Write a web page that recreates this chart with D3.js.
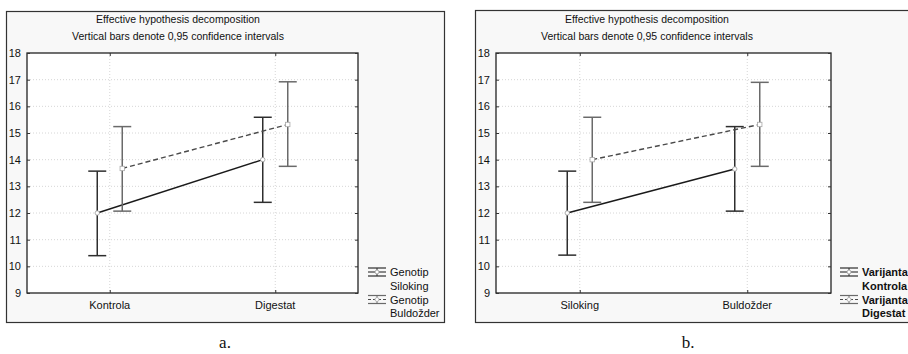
<!DOCTYPE html>
<html>
<head>
<meta charset="utf-8">
<script src="https://cdn.jsdelivr.net/npm/d3@7"></script>
<style>
  body { margin: 0; background: #fff; }
  text { font-family: 'Liberation Sans', Arial, sans-serif; }
</style>
</head>
<body>
<script>
var yTicks = [9, 10, 11, 12, 13, 14, 15, 16, 17, 18];
var titleLines = ['Effective hypothesis decomposition', 'Vertical bars denote 0,95 confidence intervals'];

// panel a
var catsA = ['Kontrola', 'Digestat'];
var seriesA = [['Genotip', 'Siloking'], ['Genotip', 'Buldožder']];
var meanA1 = [12.0, 14.0];
var lowA1 = [10.4, 12.4];
var highA1 = [13.57, 15.59];
var meanA2 = [13.67, 15.32];
var lowA2 = [12.07, 13.75];
var highA2 = [15.24, 16.92];

// panel b
var catsB = ['Siloking', 'Buldožder'];
var seriesB = [['Varijanta', 'Kontrola'], ['Varijanta', 'Digestat']];
var meanB1 = [12.0, 13.65];
var lowB1 = [10.42, 12.07];
var highB1 = [13.57, 15.24];
var meanB2 = [14.0, 15.32];
var lowB2 = [12.4, 13.75];
var highB2 = [15.59, 16.9];

var svg = d3.select('body').append('svg')
            .attr('width', 908)
            .attr('height', 354);

var styles = [
  {line: '#1a1a1a', bar: '#2e2e2e', dash: null, marker: 'circle', mk: '#9a9a9a'},
  {line: '#4a4a4a', bar: '#6a6a6a', dash: '5,3', marker: 'square', mk: '#a8a8a8'}
];

var drawPanel = function(p){
  var g = svg.append('g');
  g.append('rect')
   .attr('x', p.boxL + 0.5).attr('y', p.boxT + 0.5)
   .attr('width', p.boxR - p.boxL).attr('height', p.boxB - p.boxT)
   .attr('fill', '#f8f8f8').attr('stroke', '#333').attr('stroke-width', 1.2);

  var x = d3.scalePoint().domain(p.cats).range([p.plotL, p.plotR]).padding(0.5);
  var off = d3.scalePoint().domain([0, 1]).range([-12.5, 12.5]);
  var y = d3.scaleLinear().domain([9, 18]).range([p.plotB, p.plotT]);

  g.append('rect')
   .attr('x', p.plotL).attr('y', p.plotT)
   .attr('width', p.plotR - p.plotL).attr('height', p.plotB - p.plotT)
   .attr('fill', '#fff');

  // grid
  g.selectAll('.hgrid').data(yTicks.slice(1, -1)).enter().append('line')
   .attr('x1', p.plotL).attr('x2', p.plotR)
   .attr('y1', function(d){ return y(d); }).attr('y2', function(d){ return y(d); })
   .attr('stroke', '#ccc').attr('stroke-width', 0.8).attr('stroke-dasharray', '1,2');
  g.selectAll('.vgrid').data(p.cats).enter().append('line')
   .attr('y1', p.plotT).attr('y2', p.plotB)
   .attr('x1', function(d){ return x(d); }).attr('x2', function(d){ return x(d); })
   .attr('stroke', '#ccc').attr('stroke-width', 0.8).attr('stroke-dasharray', '1,2');

  // frame of plot area
  g.append('rect')
   .attr('x', p.plotL).attr('y', p.plotT)
   .attr('width', p.plotR - p.plotL).attr('height', p.plotB - p.plotT)
   .attr('fill', 'none').attr('stroke', '#222').attr('stroke-width', 1.3);

  // axes (ticks inward)
  g.append('g').attr('transform', 'translate(' + p.plotL + ',0)')
   .call(d3.axisRight(y).tickValues(yTicks).tickSize(3).tickFormat(''))
   .call(function(a){ a.select('.domain').remove(); a.selectAll('line').attr('stroke', '#333'); });
  g.append('g').attr('transform', 'translate(' + p.plotR + ',0)')
   .call(d3.axisLeft(y).tickValues(yTicks).tickSize(3).tickFormat(''))
   .call(function(a){ a.select('.domain').remove(); a.selectAll('line').attr('stroke', '#333'); });
  g.append('g').attr('transform', 'translate(0,' + p.plotB + ')')
   .call(d3.axisTop(x).tickSize(3).tickFormat(''))
   .call(function(a){ a.select('.domain').remove(); a.selectAll('line').attr('stroke', '#333'); });
  g.append('g').attr('transform', 'translate(0,' + p.plotT + ')')
   .call(d3.axisBottom(x).tickSize(3).tickFormat(''))
   .call(function(a){ a.select('.domain').remove(); a.selectAll('line').attr('stroke', '#333'); });

  g.selectAll('.ylab').data(yTicks).enter().append('text')
   .attr('x', p.plotL - 6).attr('y', function(d){ return y(d) + 4; })
   .attr('text-anchor', 'end').attr('font-size', 11).attr('fill', '#111')
   .text(function(d){ return d; });
  g.selectAll('.xlab').data(p.cats).enter().append('text')
   .attr('x', function(d){ return x(d); }).attr('y', p.plotB + 16)
   .attr('text-anchor', 'middle').attr('font-size', 11).attr('fill', '#111')
   .text(function(d){ return d; });

  g.selectAll('.title').data(titleLines).enter().append('text')
   .attr('x', p.plotL + 151).attr('y', function(d, i){ return 23 + i * 16.5; })
   .attr('text-anchor', 'middle').attr('font-size', 10.5).attr('fill', '#111')
   .text(function(d){ return d; });

  // series
  p.series.forEach(function(s, si){
    var st = styles[si];
    var pts = p.cats.map(function(c, i){
      return {cx: x(c) + off(si), m: s.mean[i], lo: s.low[i], hi: s.high[i]};
    });
    var sg = g.append('g');
    sg.selectAll('.bar').data(pts).enter().append('line')
      .attr('x1', function(d){ return d.cx; }).attr('x2', function(d){ return d.cx; })
      .attr('y1', function(d){ return y(d.lo); }).attr('y2', function(d){ return y(d.hi); })
      .attr('stroke', st.bar).attr('stroke-width', 1.5);
    ['lo', 'hi'].forEach(function(k){
      sg.selectAll('.cap' + k).data(pts).enter().append('line')
        .attr('x1', function(d){ return d.cx - 9; }).attr('x2', function(d){ return d.cx + 9; })
        .attr('y1', function(d){ return y(d[k]); }).attr('y2', function(d){ return y(d[k]); })
        .attr('stroke', st.bar).attr('stroke-width', 1.5);
    });
    sg.append('path').datum(pts)
      .attr('d', d3.line().x(function(d){ return d.cx; }).y(function(d){ return y(d.m); }))
      .attr('fill', 'none').attr('stroke', st.line).attr('stroke-width', 1.4)
      .attr('stroke-dasharray', st.dash);
    pts.forEach(function(d){
      if (st.marker == 'circle'){
        sg.append('circle').attr('cx', d.cx).attr('cy', y(d.m)).attr('r', 2.2)
          .attr('fill', '#fff').attr('stroke', st.mk).attr('stroke-width', 0.8);
      } else {
        sg.append('rect').attr('x', d.cx - 2.2).attr('y', y(d.m) - 2.2)
          .attr('width', 4.4).attr('height', 4.4)
          .attr('fill', '#fff').attr('stroke', st.mk).attr('stroke-width', 0.8);
      }
    });

    // legend entry
    var ly = 272 + si * 27.5;
    var lx = p.legX;
    var lg = g.append('g');
    lg.append('line').attr('x1', lx).attr('x2', lx + 18).attr('y1', ly - 4).attr('y2', ly - 4)
      .attr('stroke', st.bar).attr('stroke-width', 1.2);
    lg.append('line').attr('x1', lx).attr('x2', lx + 18).attr('y1', ly + 4).attr('y2', ly + 4)
      .attr('stroke', st.bar).attr('stroke-width', 1.2);
    lg.append('line').attr('x1', lx + 9).attr('x2', lx + 9).attr('y1', ly - 4).attr('y2', ly + 4)
      .attr('stroke', st.bar).attr('stroke-width', 1);
    lg.append('line').attr('x1', lx).attr('x2', lx + 18).attr('y1', ly).attr('y2', ly)
      .attr('stroke', st.line).attr('stroke-width', 1).attr('stroke-dasharray', st.dash ? '3,2' : null);
    lg.append('circle').attr('cx', lx + 9).attr('cy', ly).attr('r', 2)
      .attr('fill', '#fff').attr('stroke', st.mk).attr('stroke-width', 0.8);
    lg.selectAll('text').data(s.name).enter().append('text')
      .attr('x', lx + 22).attr('y', function(d, i){ return ly + 4 + i * 13.5; })
      .attr('font-size', 11).attr('fill', '#111')
      .attr('font-weight', p.boldLegend ? 'bold' : 'normal')
      .text(function(d){ return d; });
  });

  svg.append('text')
     .attr('x', p.labelX).attr('y', 348)
     .attr('text-anchor', 'middle')
     .style('font-family', "'Liberation Serif', 'Times New Roman', serif")
     .attr('font-size', 17).attr('fill', '#111')
     .text(p.label);
};

drawPanel({
  boxL: 6, boxR: 444, boxT: 11, boxB: 322,
  plotL: 27, plotR: 358, plotT: 53, plotB: 293,
  cats: catsA, legX: 368, boldLegend: false, label: 'a.', labelX: 225,
  series: [
    {name: seriesA[0], mean: meanA1, low: lowA1, high: highA1},
    {name: seriesA[1], mean: meanA2, low: lowA2, high: highA2}
  ]
});
drawPanel({
  boxL: 475, boxR: 916, boxT: 10, boxB: 322,
  plotL: 496, plotR: 831, plotT: 53, plotB: 293,
  cats: catsB, legX: 840, boldLegend: true, label: 'b.', labelX: 688,
  series: [
    {name: seriesB[0], mean: meanB1, low: lowB1, high: highB1},
    {name: seriesB[1], mean: meanB2, low: lowB2, high: highB2}
  ]
});
</script>
</body>
</html>
